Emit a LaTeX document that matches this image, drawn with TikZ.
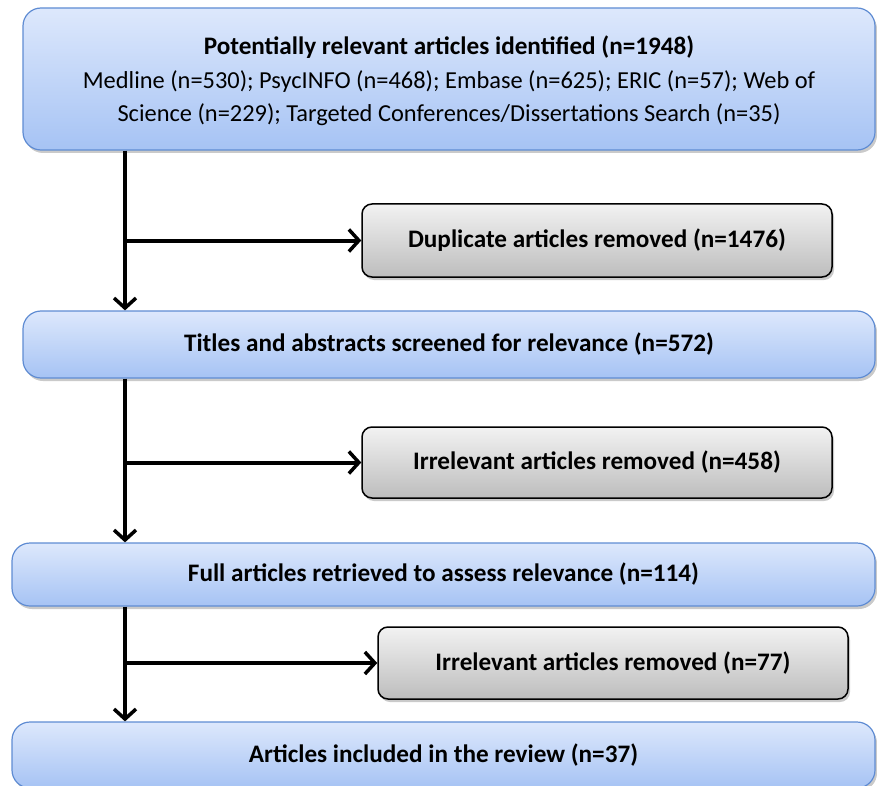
\documentclass[tikz,border=0pt]{standalone}
\usepackage{fontspec}
\setmainfont{Carlito}
\usetikzlibrary{arrows.meta,shadows}
\definecolor{bluetop}{HTML}{DDE8FC}
\definecolor{bluebot}{HTML}{A6C3F4}
\definecolor{blueline}{HTML}{5F8CD3}
\definecolor{graytop}{HTML}{F2F2F2}
\definecolor{graybot}{HTML}{BDBDBD}
\tikzset{
  bluebox/.style={draw=blueline, line width=1.2pt, rounded corners=18pt,
    top color=bluetop, bottom color=bluebot, align=center,
    drop shadow={shadow xshift=2pt, shadow yshift=-3pt, opacity=0.35, fill=black!60},
    inner sep=0pt, font=\fontsize{24.4}{33.5}\selectfont},
  bluebold/.style={font=\fontsize{25.2}{30}\selectfont\bfseries},
  graybox/.style={draw=black, line width=1.5pt, rounded corners=10pt,
    top color=graytop, bottom color=graybot, align=center,
    drop shadow={shadow xshift=2pt, shadow yshift=-3pt, opacity=0.35, fill=black!60},
    inner sep=0pt, font=\fontsize{25.2}{30}\selectfont\bfseries},
  arr/.style={line width=4pt, -{Straight Barb[length=10pt,width=22pt,line width=3.5pt]}}
}
\begin{document}
\begin{tikzpicture}[x=1pt,y=1pt]
\useasboundingbox (0,0) rectangle (877,-786);
\clip (0,0) rectangle (877,-786);
\node[bluebox, minimum width=852pt, minimum height=142pt] (b1) at (449,-79)
  {};
\node[align=center, inner sep=0pt, font=\fontsize{24.4}{33.5}\selectfont] (t1) at (449,-81)
  {{\fontsize{25.2}{33.5}\selectfont\bfseries Potentially relevant articles identified (n=1948)}\\
   Medline (n=530); PsycINFO (n=468); Embase (n=625); ERIC (n=57); Web of\\
   Science (n=229); Targeted Conferences/Dissertations Search (n=35)};
\node[graybox, minimum width=470pt, minimum height=73pt] (g1) at (597,-240.5)
  {Duplicate articles removed (n=1476)};
\node[bluebox, bluebold, minimum width=852pt, minimum height=67pt] (b2) at (449,-344.5)
  {Titles and abstracts screened for relevance (n=572)};
\node[graybox, minimum width=470pt, minimum height=71pt] (g2) at (597,-462.5)
  {Irrelevant articles removed (n=458)};
\node[bluebox, bluebold, minimum width=863pt, minimum height=63pt] (b3) at (443.5,-574.5)
  {Full articles retrieved to assess relevance (n=114)};
\node[graybox, minimum width=470pt, minimum height=72pt] (g3) at (613,-663)
  {Irrelevant articles removed (n=77)};
\node[bluebox, bluebold, minimum width=863pt, minimum height=66pt] (b4) at (443.5,-755)
  {Articles included in the review (n=37)};
\coordinate (sp) at (125,0);
\draw[arr] (b1.south -| sp) -- (b2.north -| sp);
\draw[arr] (sp |- g1.west) -- (g1.west);
\draw[arr] (b2.south -| sp) -- (b3.north -| sp);
\draw[arr] (sp |- g2.west) -- (g2.west);
\draw[arr] (b3.south -| sp) -- (b4.north -| sp);
\draw[arr] (sp |- g3.west) -- (g3.west);
\end{tikzpicture}
\end{document}
